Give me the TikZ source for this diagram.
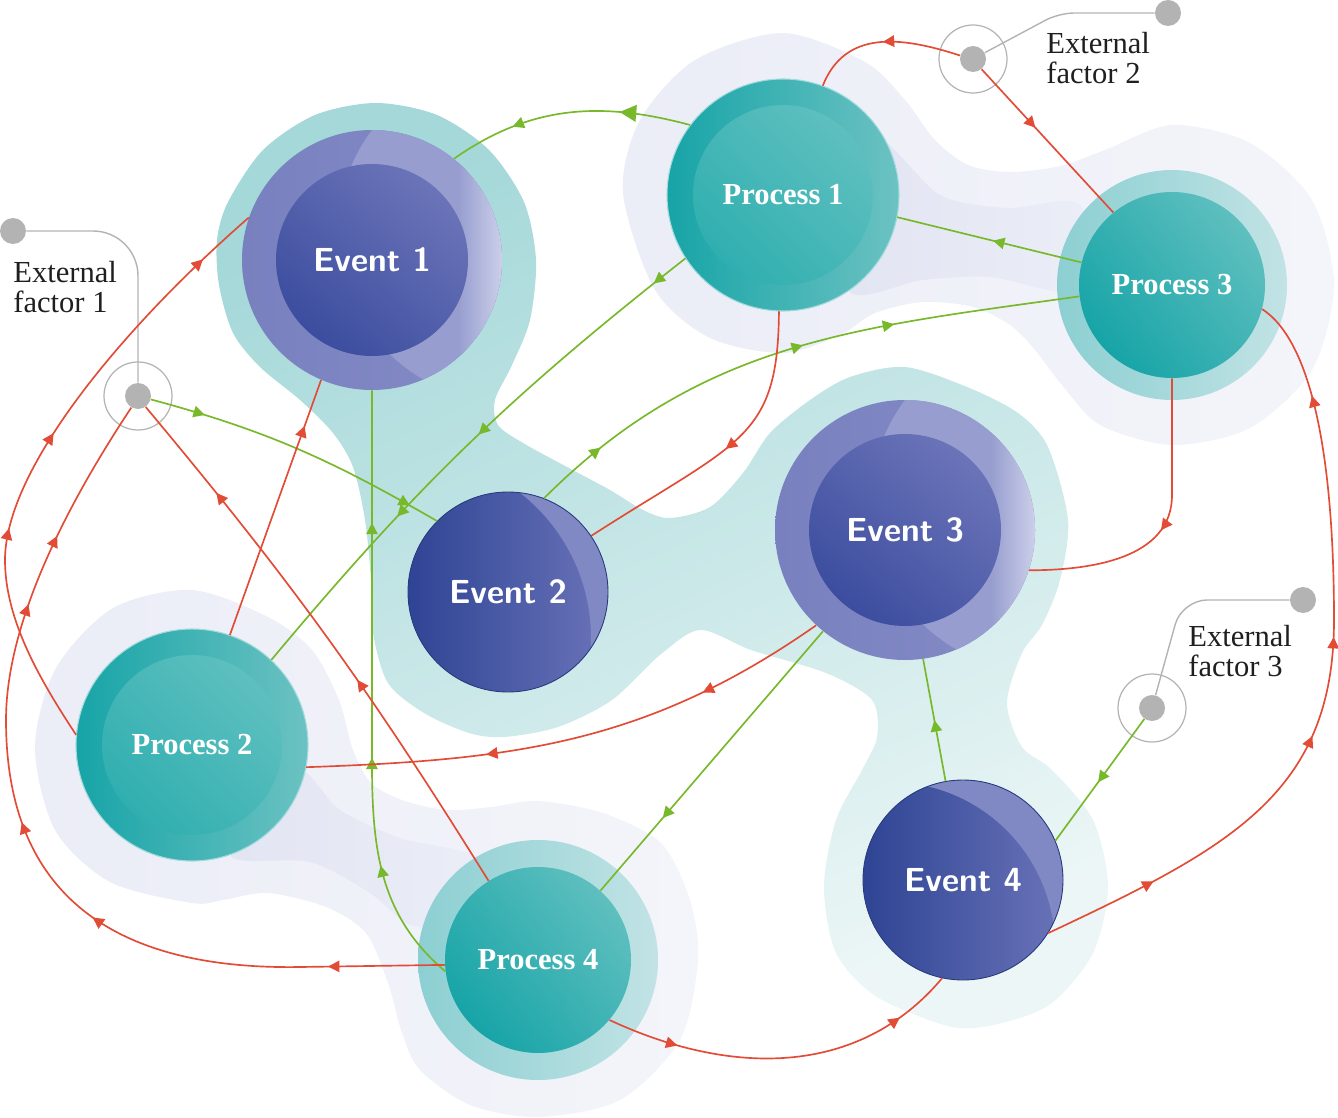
\documentclass[tikz,border=0pt]{standalone}
\usepackage{fontspec}
\newfontfamily\timesfont{Liberation Serif}
\usepackage{tikz}
\usetikzlibrary{arrows.meta,decorations.markings}
\definecolor{flowred}{HTML}{E24B35}
\definecolor{flowgreen}{HTML}{78B82B}
\definecolor{factorgrey}{HTML}{B3B3B3}
\definecolor{procdark}{HTML}{17A4A7}
\definecolor{proclight}{HTML}{6CC2C2}
\definecolor{procinner}{HTML}{30AFB0}
\definecolor{procinnerlight}{HTML}{5FBFBF}
\definecolor{procring}{HTML}{8CCFD2}
\definecolor{procringlight}{HTML}{C2E3E5}
\definecolor{evring}{HTML}{7880BF}
\definecolor{evringlight}{HTML}{858CC6}
\definecolor{evcrescent}{HTML}{979ECF}
\definecolor{evedge}{HTML}{CDD0EA}
\definecolor{evdark}{HTML}{3C4D9F}
\definecolor{evlight}{HTML}{6B74B8}
\definecolor{evbody}{HTML}{2E4494}
\definecolor{evbodylight}{HTML}{6A73B8}
\definecolor{evshine}{HTML}{8189C4}
\definecolor{tealdark}{HTML}{A5D8D9}
\definecolor{teallight}{HTML}{ECF6F6}
\definecolor{haze}{HTML}{EBEDF7}
\definecolor{hazelight}{HTML}{F4F5FA}
\definecolor{hazedark}{HTML}{E2E5F2}
\tikzset
{
    eventnode/.style   = {circle, inner sep=0pt, text=white, font=\sffamily\bfseries\fontsize{19}{21}\selectfont},
    processnode/.style = {circle, inner sep=0pt, text=white, font=\timesfont\bfseries\fontsize{17.4}{20}\selectfont},
    factornode/.style  = {circle, fill=factorgrey, minimum size=0.52cm, inner sep=0pt},
    factortext/.style  = {align=left, inner sep=0pt, anchor=north west, text=black!88, font=\timesfont\fontsize{17.4}{17}\selectfont},
    factorring/.style  = {draw=factorgrey, line width=0.7pt},
    leader/.style      = {draw=factorgrey, line width=0.8pt},
    redflow/.style     = {color=flowred, line width=0.95pt},
    greenflow/.style   = {color=flowgreen, line width=0.95pt},
    flowtip/.style     = {postaction={decorate, decoration={markings, mark=at position #1 with {\arrow{Triangle[length=6.5pt, width=6.5pt]}}}}},
    bigflowtip/.style  = {postaction={decorate, decoration={markings, mark=at position #1 with {\arrow{Triangle[length=9.5pt, width=9.5pt]}}}}}
}
\begin{document}
\begin{tikzpicture}[x=0.02cm, y=-0.02cm]
    \useasboundingbox (0,0) rectangle (1338,1118);

    \shade[left color=haze, right color=hazelight] plot[smooth cycle] coordinates {(623,193) (640,120) (695,60) (783,33) (865,62) (905,100) (935,140) (968,165) (1010,172) (1060,166) (1105,150) (1172,125) (1250,143) (1312,200) (1334,285) (1312,370) (1250,428) (1172,445) (1100,425) (1062,385) (1035,350) (1010,325) (973,307) (923,302) (875,313) (840,335) (783,353) (710,338) (655,290)};
    \shade[left color=haze, right color=hazelight] plot[smooth cycle] coordinates {(35,747) (56,668) (113,608) (192,590) (268,617) (312,650) (339,700) (353,750) (371,783) (402,800) (446,810) (491,807) (538,801) (603,813) (661,843) (690,900) (698,960) (680,1040) (620,1100) (538,1117) (470,1105) (420,1070) (402,1033) (388,983) (366,933) (326,907) (268,893) (223,900) (192,903) (110,882) (55,830)};
    \shade[left color=hazedark, right color=haze] plot[smooth cycle] coordinates {(880,140) (940,195) (1007,208) (1080,205) (1080,290) (990,277) (923,280) (850,292) (860,200)};
    \shade[left color=hazedark, right color=haze] plot[smooth cycle] coordinates {(250,800) (300,770) (340,810) (400,838) (480,860) (450,920) (410,925) (370,893) (310,862) (232,857)};
    \shade[top color=tealdark, bottom color=teallight, shading angle=25] plot[smooth cycle] coordinates {(376,103) (437,115) (489,150) (524,202) (536,260) (530,320) (512,365) (495,400) (498,425) (523,443) (567,467) (610,490) (643,510) (670,518) (710,507) (743,473) (770,433) (810,400) (850,377) (905,367) (967,387) (1018,413) (1048,447) (1068,520) (1060,580) (1042,625) (1022,653) (1007,703) (1022,747) (1052,770) (1093,820) (1108,887) (1093,953) (1052,1003) (1002,1023) (952,1027) (877,997) (836,953) (824,887) (836,820) (862,770) (877,737) (872,700) (826,673) (751,650) (700,630) (660,655) (612,700) (558,727) (504,737) (469,733) (424,713) (388,683) (373,633) (371,580) (365,520) (353,467) (333,433) (300,400) (260,367) (233,333) (219,285) (217,240) (228,202) (263,150) (315,115)};

    \foreach \name/\x/\y/\idx in {p1/783/195/1, p2/192/745/2}
    {
        \shadedraw[left color=procdark, right color=proclight, draw=white!60!procdark, line width=0.6pt] (\x,\y) circle (116);
        \shade[top color=procinnerlight, bottom color=procinner, shading angle=-45] (\x,\y) circle (90);
        \node[processnode, minimum size=4.64cm] (\name) at (\x,\y) {Process \idx};
    }
    \foreach \name/\x/\y/\ring/\idx in {p3/1172/285/115/3, p4/538/960/120/4}
    {
        \shade[left color=procring, right color=procringlight] (\x,\y) circle (\ring);
        \shade[top color=procinnerlight, bottom color=procdark, shading angle=-50] (\x,\y) circle (93);
        \node[processnode, minimum size=3.72cm] (\name) at (\x,\y) {Process \idx};
    }
    \foreach \name/\x/\y/\idx in {e1/372/260/1, e3/905/530/3}
    {
        \shade[left color=evring, right color=evringlight] (\x,\y) circle (130);
        \begin{scope}
            \clip (\x,\y) circle (130);
            \clip ([shift={(136,-28)}]\x,\y) circle (170);
            \fill[evcrescent] (\x,\y) circle (130);
            \shade[left color=evcrescent, right color=evedge] ([shift={(86,-130)}]\x,\y) rectangle ([shift={(131,130)}]\x,\y);
        \end{scope}
        \shade[top color=evlight, bottom color=evdark, shading angle=-40] (\x,\y) circle (96);
        \node[eventnode, minimum size=5.2cm] (\name) at (\x,\y) {Event \idx};
    }
    \foreach \name/\x/\y/\sx/\sy/\sr/\idx in {e2/508/592/-101/46/184/2, e4/963/880/-73/67/165/4}
    {
        \shade[left color=evbody, right color=evbodylight] (\x,\y) circle (100);
        \begin{scope}
            \clip (\x,\y) circle (100);
            \fill[evshine, even odd rule] (\x,\y) circle (100) ([shift={(\sx,\sy)}]\x,\y) circle (\sr);
        \end{scope}
        \draw[evbody!85!black, line width=0.5pt] (\x,\y) circle (100);
        \node[eventnode, minimum size=4cm] (\name) at (\x,\y) {Event \idx};
    }

    \foreach \name/\x/\y in {f1/138/396, f2/973/59, f3/1152/708}
    {
        \draw[factorring] (\x,\y) circle (34);
        \node[factornode] (\name) at (\x,\y) {};
    }
    \node[factornode] (l1) at (13,231) {};
    \node[factornode] (l2) at (1168,13) {};
    \node[factornode] (l3) at (1303,600) {};
    \draw[leader, rounded corners=0.9cm] (f1) |- (l1);
    \draw[leader, rounded corners=0.3cm] (f2) -- (1059,13) -- (l2);
    \draw[leader, rounded corners=0.5cm] (f3) -- (1182,600) -- (l3);
    \node[factortext] (t1) at (13,261) {External\\factor 1};
    \node[factortext] (t2) at (1046,32) {External\\factor 2};
    \node[factortext] (t3) at (1188,625) {External\\factor 3};

    \draw[greenflow, bigflowtip=0.29, flowtip=0.73] (p1.143) to[out=165, in=35] (e1.51);
    \draw[greenflow, flowtip=0.07, flowtip=0.47, flowtip=0.67] (p1.213) to[bend right=6] (p2.47);
    \draw[greenflow, flowtip=0.48] (p3.166) -- (p1.349);
    \draw[greenflow, flowtip=0.13, flowtip=0.52, flowtip=0.68] (e2.69) to[out=45, in=188] (p3.187);
    \draw[greenflow, flowtip=0.18, flowtip=0.9] (f1.-15) to[out=-15, in=150] (e2.135);
    \draw[greenflow, flowtip=0.21, flowtip=0.39, flowtip=0.78] (p4.187) to[out=140, in=270] (372,720) -- (e1.270);
    \draw[greenflow, flowtip=0.72] (e3.231) -- (p4.48);
    \draw[greenflow, flowtip=0.5] (e4.100) -- (e3.278);
    \draw[greenflow, flowtip=0.52] (f3.235) -- (e4.23);

    \draw[redflow, flowtip=0.5] (f2.165) .. controls (900,36) and (845,30) .. (p1.70);
    \draw[redflow, flowtip=0.41] (f2.-50) -- (p3.129);
    \draw[redflow, flowtip=0.49] (p1.268) .. controls (778,440) and (740,440) .. (e2.34);
    \draw[redflow, flowtip=0.52] (p3.270) -- (1172,495) to[out=270, in=0] (e3.-18);
    \draw[redflow, flowtip=0.15, flowtip=0.43, flowtip=0.56, flowtip=0.87] (e4.-32) .. controls (1229,848) and (1334,794) .. (1334,620) .. controls (1334,450) and (1310,340) .. (p3.-15);
    \draw[redflow, flowtip=0.36, flowtip=0.53, flowtip=0.9] (p2.175) .. controls (40,680) and (5,620) .. (5,560) .. controls (5,470) and (120,330) .. (e1.161);
    \draw[redflow, flowtip=0.126, flowtip=0.39, flowtip=0.52, flowtip=0.76, flowtip=0.84] (p4.183) -- (300,967) .. controls (120,970) and (6,900) .. (6,720) .. controls (6,620) and (70,500) .. (f1.240);
    \draw[redflow, flowtip=0.41, flowtip=0.81] (p4.122) to[bend right=4] (f1.-55);
    \draw[redflow, flowtip=0.82] (p2.71) -- (e1.247);
    \draw[redflow, flowtip=0.245, flowtip=0.665] (e3.227) to[out=215, in=2] (p2.-11);
    \draw[redflow, flowtip=0.2, flowtip=0.84] (p4.-40) to[out=-25, in=230] (e4.258);
\end{tikzpicture}
\end{document}
